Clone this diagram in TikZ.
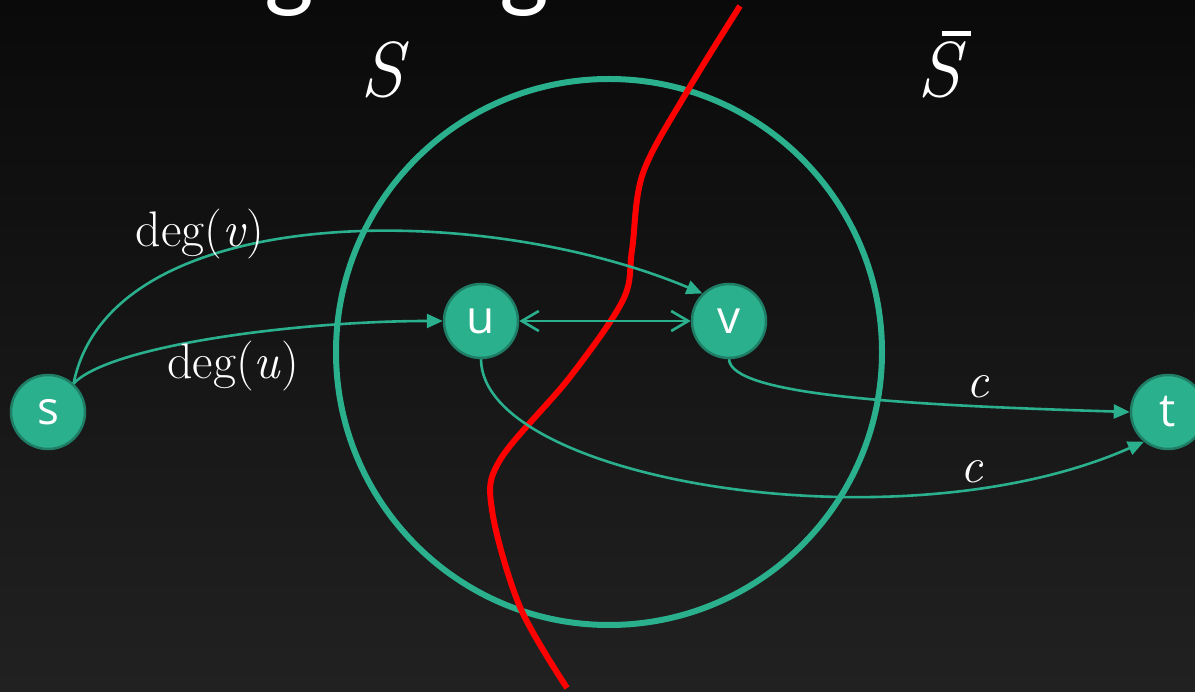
\documentclass[tikz,border=0pt]{standalone}
\usepackage{fontspec}
\usetikzlibrary{arrows.meta}
\newfontfamily\nodefont{Open Sans}
\newfontfamily\titlefont{Carlito}
\definecolor{tealA}{RGB}{43,176,142}
\definecolor{tealB}{RGB}{31,126,102}
\definecolor{bgtop}{RGB}{10,10,10}
\definecolor{bgbot}{RGB}{33,33,33}
\definecolor{cutred}{RGB}{255,0,0}
\tikzset{
  vert/.style={circle, fill=tealA, draw=tealB, line width=2.5pt, minimum size=74pt,
    inner sep=0pt, text=white, font=\nodefont\fontsize{46}{46}\selectfont},
  edgeline/.style={draw=tealA, line width=2.6pt},
  tip/.style={-{Triangle[length=16pt,width=14pt]}},
  barbs/.style={{Straight Barb[length=17pt,width=20pt]}-{Straight Barb[length=17pt,width=20pt]}},
  mlabel/.style={text=white, inner sep=0pt, font=\fontsize{50}{52}\selectfont},
  setlabel/.style={text=white, inner sep=0pt, font=\fontsize{78}{80}\selectfont},
  titletext/.style={text=white, inner sep=0pt, font=\titlefont\fontsize{105}{105}\selectfont}
}
\begin{document}
\begin{tikzpicture}[x=1pt,y=-1pt]
\useasboundingbox (0,0) rectangle (1195,692);
\shade[top color=bgtop, bottom color=bgbot] (0,0) rectangle (1195,692);
\begin{scope}
\clip (0,0) rectangle (1195,692);
% title remnants
\node[titletext, anchor=south] (g1) at (289,17) {g};
\node[titletext, anchor=south] (g2) at (524,17) {g};
% set region
\draw[tealA, line width=6pt] (609,352) circle[radius=273];
% cut
\draw[cutred, line width=6pt] plot[smooth, tension=0.55] coordinates
  {(740,6) (688,90) (643,173) (632,250) (623,300) (570,377) (500,460) (492,510) (520,607) (567,688)};
% vertices
\node[vert] (s) at (48,412) {s};
\node[vert] (u) at (481,321) {u};
\node[vert] (v) at (729,321) {v};
\node[vert] (t) at (1168,412) {t};
% edges
\draw[edgeline, tip] (s.48) .. controls (110,200) and (480,200) .. (v.134);
\draw[edgeline, tip] (s.48) .. controls (110,345) and (300,321) .. (u.west);
\draw[edgeline, barbs] (u.east) -- (v.west);
\draw[edgeline, tip] (v.south) .. controls (731,395) and (900,405) .. (t.west);
\draw[edgeline, tip] (u.south) .. controls (482,480) and (900,550) .. (t.231);
% labels
\node[mlabel] (lv) at (200,234) {deg(\textit{v})};
\node[mlabel] (lu) at (233,366) {deg(\textit{u})};
\node[mlabel] (c1) at (978,387) {\textit{c}};
\node[mlabel] (c2) at (972,472) {\textit{c}};
\node[setlabel, anchor=base] (S) at (385,97) {\textit{S}};
\node[setlabel, anchor=base] (Sbar) at (942,97) {\textit{S}\llap{\rule[0.78em]{0.37em}{0.065em}\hspace{-0.06em}}};
\end{scope}
\end{tikzpicture}
\end{document}
